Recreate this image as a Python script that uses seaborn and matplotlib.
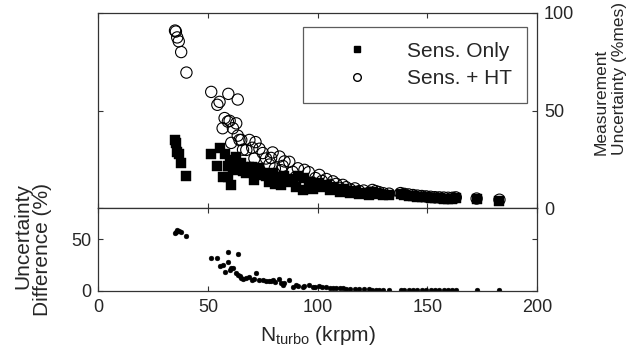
import numpy as np
import pandas as pd
import seaborn as sns
import matplotlib.pyplot as plt
from matplotlib.lines import Line2D

# turbo speed (krpm) of each operating point
n_turbo = [35.0, 35.4, 36.0, 36.7, 37.8, 40.2,
           51.5, 54.3, 55.3, 56.7, 57.6, 59.1, 59.3, 59.9, 60.6, 61.4,
           62.9, 63.6, 63.6, 64.4, 65.2, 66.0, 67.5, 68.9, 70.2, 71.2,
           71.7, 73.5, 75.0, 76.5, 78.0, 78.8, 79.5, 80.5, 82.6, 83.4,
           84.1, 84.9, 87.1, 88.6, 90.0, 91.0, 93.2, 94.0, 96.0, 97.8,
           99.0, 100.8, 102.0, 104.0, 105.5, 107.0, 108.5, 110.0, 111.5, 113.0,
           115.0, 117.0, 119.0, 121.0, 123.5, 125.0, 126.5, 128.0, 130.0, 132.6,
           137.8, 139.5, 141.5, 143.5, 145.5, 147.5, 149.5, 151.5, 153.5, 155.5,
           157.5, 159.5, 161.5, 163.0, 172.5, 182.9]

# measurement uncertainty, sensors only (%mes)
sens_only = [35.0, 33.5, 29.0, 28.0, 23.0, 16.5,
             28.0, 21.5, 31.0, 16.2, 27.8, 16.2, 21.6, 24.8, 11.9, 19.5,
             26.5, 20.2, 22.0, 21.3, 23.0, 19.0, 17.9, 21.4, 21.0, 14.5,
             17.0, 20.5, 18.0, 16.5, 13.6, 17.0, 18.0, 12.5, 15.5, 12.0,
             16.0, 16.8, 13.5, 15.0, 11.0, 16.5, 9.4, 15.5, 13.6, 10.0,
             12.0, 13.0, 11.0, 12.0, 9.5, 11.0, 10.0, 8.5, 10.0, 9.0,
             8.0, 8.8, 7.5, 8.0, 7.0, 8.5, 8.0, 7.5, 7.0, 6.8,
             7.2, 6.8, 6.5, 6.2, 6.0, 5.8, 5.6, 5.4, 5.2, 5.1,
             5.0, 4.9, 5.0, 5.2, 4.6, 4.0]

# measurement uncertainty, sensors + heat transfer (%mes)
sens_ht = [91.0, 90.5, 87.5, 85.5, 80.0, 69.5,
           59.6, 53.0, 54.5, 41.0, 46.2, 44.4, 58.6, 44.8, 33.5, 41.0,
           43.5, 55.7, 37.2, 35.0, 35.0, 30.0, 29.9, 35.0, 31.0, 25.5,
           33.9, 30.5, 28.3, 25.5, 22.4, 25.8, 28.6, 20.5, 26.5, 19.5,
           21.7, 24.0, 23.8, 18.7, 16.0, 20.5, 13.0, 19.7, 18.5, 13.0,
           15.5, 17.1, 14.0, 15.0, 12.0, 13.8, 12.5, 10.5, 12.0, 10.8,
           9.6, 10.2, 8.8, 9.1, 8.0, 9.4, 8.8, 8.3, 7.7, 7.5,
           7.8, 7.4, 7.1, 6.8, 6.5, 6.3, 6.1, 5.9, 5.7, 5.6,
           5.5, 5.4, 5.4, 5.6, 5.0, 4.4]

# uncertainty difference (%)
unc_diff = [56.0, 57.0, 58.5, 57.5, 57.0, 53.0,
            31.6, 31.5, 23.5, 24.8, 18.4, 28.2, 37.0, 20.0, 21.6, 21.5,
            17.0, 35.5, 15.2, 13.7, 12.0, 11.0, 12.0, 13.6, 10.0, 11.0,
            16.9, 10.0, 10.3, 9.0, 8.8, 8.8, 10.6, 8.0, 11.0, 7.5,
            5.7, 7.2, 10.3, 3.7, 5.0, 4.0, 3.6, 4.2, 4.9, 3.0,
            3.5, 4.1, 3.0, 3.0, 2.5, 2.8, 2.5, 2.0, 2.0, 1.8,
            1.6, 1.4, 1.3, 1.1, 1.0, 0.9, 0.8, 0.8, 0.7, 0.7,
            0.6, 0.6, 0.6, 0.6, 0.5, 0.5, 0.5, 0.5, 0.5, 0.5,
            0.5, 0.4, 0.4, 0.4, 0.4, 0.4]

df = pd.DataFrame({"n": n_turbo, "only": sens_only, "ht": sens_ht, "diff": unc_diff})

sns.set_style("ticks")
plt.rcParams["font.family"] = ["Liberation Sans", "DejaVu Sans"]
plt.rcParams["mathtext.fontset"] = "custom"
plt.rcParams["mathtext.rm"] = "Liberation Sans"

fig = plt.figure(figsize=(6.38, 3.64), dpi=100)
ax1 = fig.add_axes([0.154, 0.4277, 0.6876, 0.5366])
ax2 = fig.add_axes([0.154, 0.2019, 0.6876, 0.2258])

sns.scatterplot(data=df, x="n", y="only", ax=ax1, marker="s", s=55,
                color="black", edgecolor="black", linewidth=0.3, legend=False)
sns.scatterplot(data=df, x="n", y="ht", ax=ax1, marker="o", s=66,
                facecolor="none", edgecolor="black", linewidth=0.8, legend=False)
sns.scatterplot(data=df, x="n", y="diff", ax=ax2, marker="o", s=12,
                color="black", edgecolor="black", linewidth=0.3, legend=False)

spine_col = "#333333"
for ax in (ax1, ax2):
    ax.set_xlim(0, 200)
    ax.set_xticks([0, 50, 100, 150, 200])
    for sp in ax.spines.values():
        sp.set_visible(True)
        sp.set_color(spine_col)
        sp.set_linewidth(0.9)
    ax.tick_params(direction="in", length=3.5, width=0.8, color=spine_col,
                   top=True, bottom=True, left=True, right=True,
                   labelsize=13)
    ax.set_xlabel("")
    ax.set_ylabel("")

ax1.set_ylim(0, 100)
ax1.set_yticks([0, 50, 100])
ax1.tick_params(labelbottom=False, labelleft=False, labelright=True, pad=5)

ax2.set_ylim(0, 80)
ax2.set_yticks([0, 50])
ax2.tick_params(labelleft=True, labelright=False, pad=5)
ax2.tick_params(axis="x", pad=6)
ax2.set_xlabel(r"N$_{\mathregular{turbo}}$ (krpm)", fontsize=15, labelpad=6)

handles = [Line2D([], [], ls="none", marker="s", color="black", markersize=5),
           Line2D([], [], ls="none", marker="o", markerfacecolor="none",
                  markeredgecolor="black", markersize=5.5)]
leg = ax1.legend(handles, ["Sens. Only", "Sens. + HT"], loc="upper left",
                 bbox_to_anchor=(0.4666, 0.928), fontsize=15, frameon=True,
                 fancybox=False, borderpad=0.7, handlelength=3.8,
                 handletextpad=0.5, labelspacing=0.4, borderaxespad=0)
leg.get_frame().set_edgecolor(spine_col)
leg.get_frame().set_linewidth(0.9)

fig.text(610 / 638, 1 - 155 / 364, "Measurement\nUncertainty (%mes)",
         rotation=90, ha="center", va="bottom", multialignment="left",
         fontsize=12.5, linespacing=1.3)
fig.text(32.5 / 638, 1 - 183 / 364, "Uncertainty\nDifference (%)",
         rotation=90, ha="center", va="top", multialignment="right",
         fontsize=15, linespacing=1.05)

fig.savefig("out.png", dpi=100)
